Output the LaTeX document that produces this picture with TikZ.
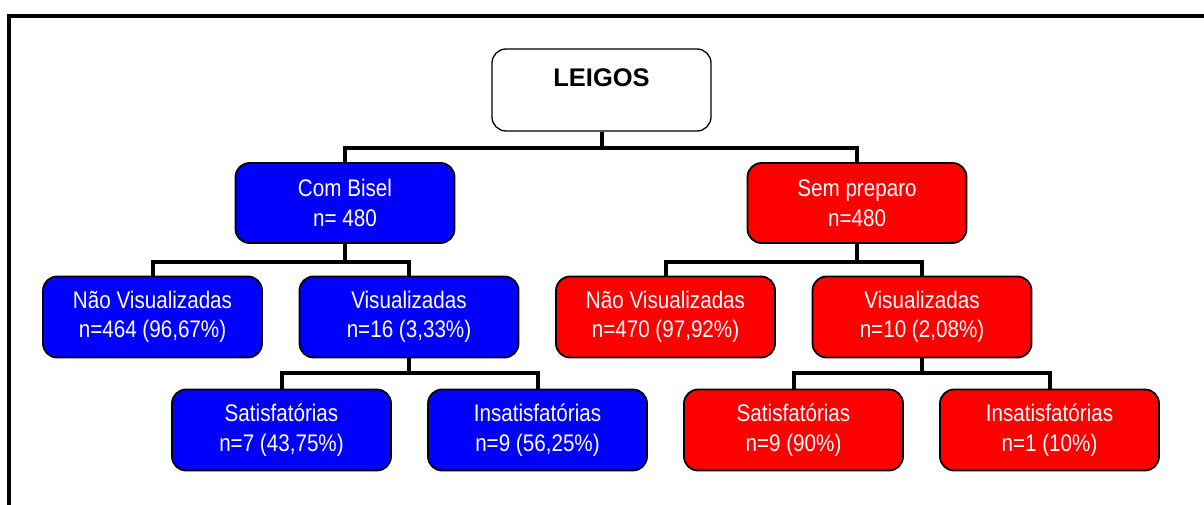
\documentclass[tikz,border=0pt]{standalone}
\usepackage{fontspec}
\setmainfont{Liberation Sans}
\newfontfamily\narrowfont{Liberation Sans}[FakeStretch=0.86]
\definecolor{bblue}{RGB}{0,0,255}
\definecolor{rred}{RGB}{255,0,0}
\begin{document}
\begin{tikzpicture}[x=1pt,y=-1pt,
  box/.style={draw=black, line width=1.8pt, rounded corners=14pt, minimum width=219pt, minimum height=81pt, inner sep=0pt, align=center, text=white, font=\narrowfont\fontsize{24}{29.5}\selectfont},
  bluebox/.style={box, fill=bblue},
  redbox/.style={box, fill=rred},
  conn/.style={draw=black, line width=4pt},
  frame/.style={draw=black, line width=4pt}]
\useasboundingbox (0,0) rectangle (1204,505);
\fill[white] (0,0) rectangle (1204,505);
\draw[frame] (8.5,520) -- (8.5,16) -- (1220,16);

\node[draw=black, line width=1.3pt, rounded corners=14pt, fill=white, minimum width=219pt, minimum height=82pt, inner sep=0pt,
  text height=18pt, text depth=24pt, font=\bfseries\fontsize{25.5}{30}\selectfont] (leigos) at (601.5,90) {LEIGOS};

\node[bluebox, minimum height=80pt] (bisel) at (345,203) {Com Bisel\\n= 480};
\node[redbox, minimum height=80pt] (sem) at (857,203) {Sem preparo\\n=480};

\node[bluebox] (nv1) at (152.5,317) {Não Visualizadas\\n=464 (96,67\%)};
\node[bluebox] (v1) at (409,317) {Visualizadas\\n=16 (3,33\%)};
\node[bluebox] (s1) at (281.5,430) {Satisfatórias\\n=7 (43,75\%)};
\node[bluebox] (i1) at (537.5,430) {Insatisfatórias\\n=9 (56,25\%)};

\node[redbox] (nv2) at (665.5,317) {Não Visualizadas\\n=470 (97,92\%)};
\node[redbox] (v2) at (922,317) {Visualizadas\\n=10 (2,08\%)};
\node[redbox] (s2) at (793.5,430) {Satisfatórias\\n=9 (90\%)};
\node[redbox] (i2) at (1049.5,430) {Insatisfatórias\\n=1 (10\%)};

\draw[conn] (leigos.south) -- ++(0,16) -| (bisel.north);
\draw[conn] (leigos.south) -- ++(0,16) -| (sem.north);
\draw[conn] (bisel.south) -- ++(0,18) -| (nv1.north);
\draw[conn] (bisel.south) -- ++(0,18) -| (v1.north);
\draw[conn] (sem.south) -- ++(0,18) -| (nv2.north);
\draw[conn] (sem.south) -- ++(0,18) -| (v2.north);
\draw[conn] (v1.south) -- ++(0,15) -| (s1.north);
\draw[conn] (v1.south) -- ++(0,15) -| (i1.north);
\draw[conn] (v2.south) -- ++(0,15) -| (s2.north);
\draw[conn] (v2.south) -- ++(0,15) -| (i2.north);
\end{tikzpicture}
\end{document}
